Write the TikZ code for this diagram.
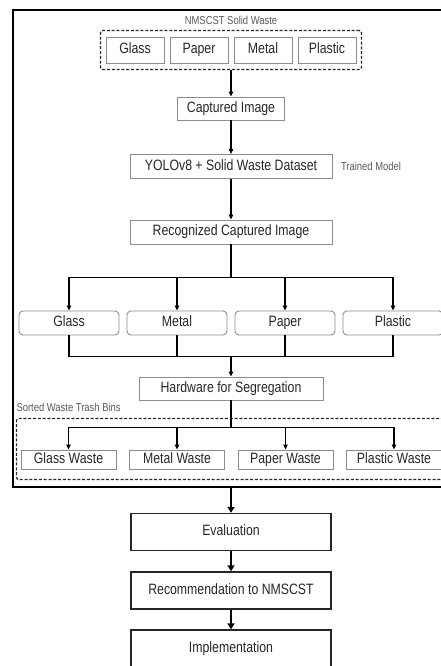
\documentclass[tikz,border=0pt]{standalone}
\usepackage{fontspec}
\setmainfont{Liberation Sans}[FakeStretch=0.82]
\usetikzlibrary{arrows.meta,fit}
\newcommand{\boxfont}{\fontsize{15}{17}\selectfont}
\newcommand{\notefont}{\fontsize{11.5}{13}\selectfont}

\begin{document}
\begin{tikzpicture}[x=1pt, y=-1pt, >={Triangle[length=5pt,width=4.5pt]}, line width=1.2pt,
  srcbox/.style={draw=black!45, line width=0.9pt, text=black!85, font=\boxfont, text height=10.7pt, text depth=3pt, minimum width=58pt, minimum height=26pt, inner sep=1pt},
  stepbox/.style={draw=black!45, line width=0.9pt, text=black!85, font=\boxfont, text height=10.7pt, text depth=3pt, minimum height=24pt, inner sep=1pt},
  catbox/.style={stepbox, rounded corners=4pt, minimum width=100pt},
  binbox/.style={stepbox, minimum width=95pt, minimum height=19pt},
  endbox/.style={draw=black!85, line width=1.4pt, text=black!85, font=\boxfont, text height=10.7pt, text depth=3pt, minimum width=200pt, minimum height=37pt},
  groupbox/.style={draw=black!85, dash pattern=on 3pt off 1.8pt, line width=1.3pt, rounded corners=2pt},
  note/.style={text=black!65, font=\notefont, inner sep=0pt},
  thick arrow/.style={line width=2.2pt, -{Triangle[length=6pt,width=7pt]}}]
\useasboundingbox (0,0) rectangle (441,666);
\clip (0,0) rectangle (441,666);

% collected solid waste
\node[srcbox]                                      (glass)   at (135,50) {Glass};
\node[srcbox, node distance=64pt, right of=glass]  (paper)   {Paper};
\node[srcbox, node distance=64pt, right of=paper]  (metal)   {Metal};
\node[srcbox, node distance=64pt, right of=metal]  (plastic) {Plastic};
\node[groupbox, fit=(glass) (plastic), inner xsep=5pt, inner ysep=6pt] (waste) {};
\node[note, anchor=south] (wastelabel) at ([yshift=5pt]waste.north) {NMSCST Solid Waste};

% detection
\node[stepbox, minimum width=107pt, minimum height=23pt]          (capture) at (231,108.5) {Captured Image};
\node[stepbox, minimum width=202pt, node distance=58pt, below of=capture] (yolo)  {YOLOv8 + Solid Waste Dataset};
\node[note, anchor=west] (trained) at ([xshift=8pt]yolo.east) {Trained Model};
\node[stepbox, minimum width=202pt, node distance=65.5pt, below of=yolo]  (recog) {Recognized Captured Image};

% classes
\node[catbox]                                        (cglass)   at (69,323) {Glass};
\node[catbox, node distance=108pt, right of=cglass]  (cmetal)   {Metal};
\node[catbox, node distance=108pt, right of=cmetal]  (cpaper)   {Paper};
\node[catbox, node distance=108pt, right of=cpaper]  (cplastic) {Plastic};

\node[stepbox, minimum width=184pt, minimum height=23pt] (hardware) at (231,388.5) {Hardware for Segregation};

% trash bins
\node[binbox]                                          (bglass)   at (68.5,459.5) {Glass Waste};
\node[binbox, node distance=108.5pt, right of=bglass]  (bmetal)   {Metal Waste};
\node[binbox, node distance=108.5pt, right of=bmetal]  (bpaper)   {Paper Waste};
\node[binbox, node distance=108.5pt, right of=bpaper]  (bplastic) {Plastic Waste};
\coordinate (binsnw) at ([yshift=25pt]bglass.north west);
\coordinate (binsse) at ([yshift=-4pt]bplastic.south east);
\node[groupbox, fit=(binsnw) (binsse), inner xsep=4pt, inner ysep=6pt] (bins) {};
\node[note, anchor=south west] (binslabel) at ([yshift=6pt]bins.north west) {Sorted Waste Trash Bins};

% whole system
\coordinate (framenw) at (13,10);
\coordinate (framese) at (447,487);
\node[draw, line width=1.8pt, fit=(framenw) (framese), inner sep=0pt] (system) {};

\node[endbox]                                            (eval)      at (231,532) {Evaluation};
\node[endbox, node distance=58.5pt, below of=eval]       (recommend) {Recommendation to NMSCST};
\node[endbox, node distance=58pt, below of=recommend]    (impl)      {Implementation};

\draw[->] (waste) -- (capture);
\draw[->] (capture) -- (yolo);
\draw[->] (yolo) -- (recog);

\draw (recog.south) -- ++(0,-33pt) coordinate (split);
\draw[->] (split) -| (cglass.north);
\draw[->] (split) -| (cmetal.north);
\draw[->] (split) -| (cpaper.north);
\draw[->] (split) -| (cplastic.north);

\coordinate (merge) at ([yshift=20pt]hardware.north);
\draw (cglass.south) |- (merge);
\draw (cplastic.south) |- (merge);
\draw (cmetal.south) -- (cmetal.south |- merge);
\draw (cpaper.south) -- (cpaper.south |- merge);
\draw[->] (merge) -- (hardware);

\draw (hardware.south) -- ++(0,-27pt) coordinate (split2);
\draw[->] (split2) -| (bglass.north);
\draw[->] (split2) -| (bmetal.north);
\draw[->] (split2) -| (bpaper.north);
\draw[->] (split2) -| (bplastic.north);

\draw[thick arrow] (eval |- system.south) -- (eval);
\draw[thick arrow] (eval) -- (recommend);
\draw[thick arrow] (recommend) -- (impl);
\end{tikzpicture}
\end{document}
